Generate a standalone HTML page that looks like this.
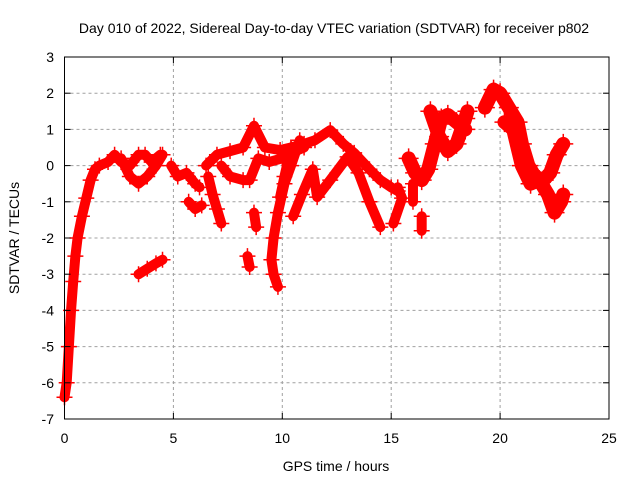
<!DOCTYPE html>
<html><head><meta charset="utf-8"><style>
body{margin:0;background:#fff;}
svg text{font-family:"Liberation Sans",sans-serif;font-size:14px;fill:#000;}
</style></head><body>
<svg id="chart" width="640" height="480" viewBox="0 0 640 480">
<rect x="0" y="0" width="640" height="480" fill="#fff"/>
<g id="grid"></g>
<g id="series"></g>
<g id="axes"></g>
<text x="334" y="33" text-anchor="middle">Day 010 of 2022, Sidereal Day-to-day VTEC variation (SDTVAR) for receiver p802</text>
<text x="336" y="471" text-anchor="middle">GPS time / hours</text>
<text x="0" y="0" text-anchor="middle" transform="translate(19,238) rotate(-90)">SDTVAR / TECUs</text>
</svg>
<script>
const xTicks=[0,5,10,15,20,25];
const yTicks=[-7,-6,-5,-4,-3,-2,-1,0,1,2,3];
const trackRise=[[0,-6.4],[0.1,-6],[0.2,-5],[0.3,-4],[0.4,-3.2],[0.5,-2.5],[0.6,-2],[0.8,-1.4],[1.0,-0.9],[1.2,-0.4],[1.4,-0.1],[1.6,0],[2.0,0.1],[2.3,0.3],[2.6,0.1],[3.0,0.0],[3.4,0.3],[3.7,0.3],[4.0,0.1],[4.4,0.3]];
const trackLoop=[[2.6,0.2],[3.0,-0.3],[3.4,-0.5],[3.8,-0.3],[4.2,0],[4.5,0.3]];
const trackLow=[[3.4,-3.0],[3.8,-2.85],[4.2,-2.7],[4.5,-2.6]];
const trackMid1=[[4.9,0],[5.2,-0.3],[5.6,-0.2],[6.0,-0.5],[6.2,-0.6]];
const trackMid2=[[5.7,-1.0],[6.0,-1.2],[6.3,-1.1]];
const trackMid3=[[6.6,-0.3],[6.8,-0.8],[7.0,-1.2],[7.2,-1.6]];
const trackUp=[[6.5,0.0],[7.0,0.3],[7.6,0.4],[8.2,0.5],[8.7,1.1],[9.2,0.5],[9.9,0.43],[10.4,0.5],[11.0,0.6],[11.5,0.7],[12.2,0.98],[12.8,0.6],[13.3,0.35],[14.0,-0.1],[14.5,-0.4],[15.0,-0.6],[15.3,-0.7]];
const trackUp2=[[7.2,0.0],[7.6,-0.3],[8.2,-0.4],[8.5,-0.4],[8.9,0.2],[9.4,0.1],[10.0,0.2],[10.6,0.4],[11.0,0.5]];
const trackDrop=[[10.8,0.7],[10.4,0.0],[10.1,-0.5],[9.8,-1.3],[9.6,-2.0],[9.5,-2.6],[9.6,-3.0],[9.8,-3.35]];
const trackBitA=[[8.4,-2.5],[8.5,-2.8]];
const trackBitB=[[8.7,-1.3],[8.8,-1.7]];
const trackLeft=[[9.9,-0.87],[10.1,-0.3],[10.4,0.5]];
const trackLower=[[10.5,-1.4],[10.9,-0.8],[11.4,-0.1],[11.6,-0.87],[12.2,-0.4],[13.0,0.24],[13.5,-0.2],[14.0,-1.0],[14.5,-1.7]];
const trackR1=[[15.3,-0.6],[15.5,-0.9],[15.1,-1.6]];
const trackBitC=[[16.0,-0.5],[16.0,-1.0]];
const trackBitD=[[16.4,-1.4],[16.4,-1.8]];
const trackBlob1=[[15.8,0.2],[16.1,-0.2],[16.4,-0.4],[16.7,-0.1],[17.0,0.6],[17.3,1.3],[17.6,1.4],[18.0,1.2],[18.4,1.0]];
const trackBlob2=[[16.8,1.5],[17.2,0.8],[17.6,0.4],[18.0,0.6],[18.4,1.3],[18.5,1.5]];
const trackEnd1=[[19.3,1.6],[19.7,2.1],[20.0,2.0],[20.4,1.6],[20.8,1.2],[21.0,0.6],[21.3,0.0],[21.6,-0.3],[22.0,-0.4],[22.3,-0.2],[22.6,0.3],[22.9,0.6]];
const trackEnd2=[[20.2,1.2],[20.6,1.0],[21.0,0.0],[21.4,-0.5],[21.8,-0.4],[22.2,-0.8],[22.5,-1.3],[22.8,-1.0],[22.9,-0.8]];
const tracks=[trackRise,trackLoop,trackLow,trackMid1,trackMid2,trackMid3,trackUp,trackUp2,trackDrop,trackBitA,trackBitB,trackLeft,trackLower,trackR1,trackBitC,trackBitD,trackBlob1,trackBlob2,trackEnd1,trackEnd2];
const wideTracks=[trackBlob1,trackBlob2,trackEnd1,trackEnd2];

const X0=64.5,X1=609,Y0=419,Y1=57;
const xS=t=>X0+(t-0)/25*(X1-X0);
const yS=v=>Y0-(v+7)/10*(Y0-Y1);
const NS='http://www.w3.org/2000/svg';
function mk(tag,attrs,parent){const e=document.createElementNS(NS,tag);for(const k in attrs)e.setAttribute(k,attrs[k]);parent.appendChild(e);return e;}
const grid=document.getElementById('grid'),axes=document.getElementById('axes'),ser=document.getElementById('series');
xTicks.forEach(t=>{
  if(t>0&&t<25){const l=mk('line',{x1:xS(t),x2:xS(t),y1:Y1,y2:Y0,stroke:'#a0a0a0','stroke-dasharray':'3,3'},grid);
  
  }
  const tk=mk('line',{x1:xS(t),x2:xS(t),y1:Y0,y2:Y0-6,stroke:'#000'},axes);
  
  
  mk('line',{x1:xS(t),x2:xS(t),y1:Y1,y2:Y1+6,stroke:'#000'},axes);
  const tx=mk('text',{x:xS(t),y:443,'text-anchor':'middle'},axes);tx.textContent=t;
  
  
});
yTicks.forEach(v=>{
  if(v>-7&&v<3){const l=mk('line',{x1:X0,x2:X1,y1:yS(v),y2:yS(v),stroke:'#a0a0a0','stroke-dasharray':'3,3'},grid);
  
  }
  const tk=mk('line',{x1:X0,x2:X0+6,y1:yS(v),y2:yS(v),stroke:'#000'},axes);
  
  
  mk('line',{x1:X1,x2:X1-6,y1:yS(v),y2:yS(v),stroke:'#000'},axes);
  const tx=mk('text',{x:54,y:yS(v)+5,'text-anchor':'end'},axes);tx.textContent=v;
  
  
});
const fr=mk('rect',{x:X0,y:Y1,width:X1-X0,height:Y0-Y1,fill:'none',stroke:'#000','stroke-width':1},axes);


tracks.forEach(tr=>{
  const w=wideTracks.includes(tr)?14:10;
  const pl=mk('polyline',{points:tr.map(p=>xS(p[0])+','+yS(p[1])).join(' '),fill:'none',stroke:'#ff0000','stroke-width':w,'stroke-linejoin':'round','stroke-linecap':'round'},ser);
  
  
  tr.forEach(p=>{
    const x=xS(p[0]),y=yS(p[1]),s=w/2+3;
    const m=mk('path',{d:`M${x-s},${y}H${x+s}M${x},${y-s}V${y+s}`,stroke:'#ff0000','stroke-width':1.5},ser);
    
    
  });
});
</script>
</body></html>
